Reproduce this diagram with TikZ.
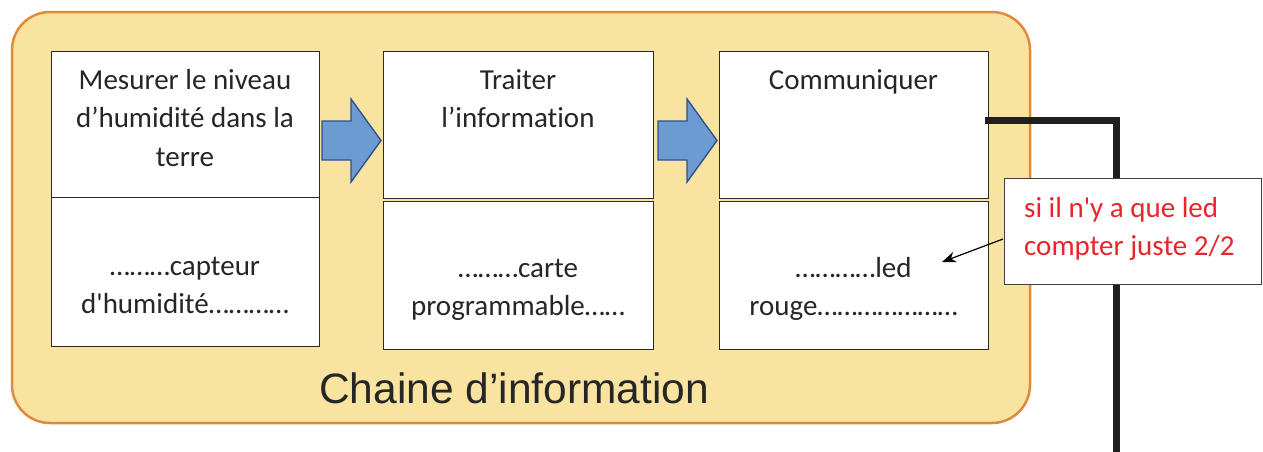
\documentclass[tikz,border=0pt]{standalone}
\usepackage{fontspec}
\usetikzlibrary{arrows.meta}
\setmainfont{Carlito}[Ligatures={NoCommon,TeXOff}]
\newfontfamily\arialf{Liberation Sans}
\newcommand\fh{\rule{0pt}{20pt}}
\definecolor{chainfill}{HTML}{F8E4A0}
\definecolor{chainedge}{HTML}{E08A3C}
\definecolor{arrfill}{HTML}{6C9BD2}
\definecolor{arredge}{HTML}{2F528F}
\definecolor{boxedge}{HTML}{2B2B2B}
\definecolor{redtxt}{HTML}{E8262A}
\tikzset{
  cell/.style={draw=boxedge, line width=1.2pt, fill=white, inner sep=0pt, anchor=north west},
  txt/.style={inner sep=0pt, anchor=north, align=center, text=black!85,
              font=\fontsize{29}{38.5}\selectfont},
  blockarrow/.style={fill=arrfill, draw=arredge, line width=1.4pt, line join=miter},
}
\begin{document}
\begin{tikzpicture}[x=1pt,y=-1pt]
\useasboundingbox (0,0) rectangle (1263,451);
% outer chain
\draw[fill=chainfill, draw=chainedge, line width=2.5pt, rounded corners=38pt]
  (12,12) rectangle (1030,423);
\node[inner sep=0pt, anchor=base, font=\arialf\fontsize{42.5}{42}\selectfont, text=black!85]
  (title) at (514,403) {Chaine d’information};
% boxes
\node[cell, minimum width=268pt, minimum height=146pt] (b1t) at (51,51) {};
\node[cell, minimum width=268pt, minimum height=149pt] (b1b) at (51,197) {};
\node[cell, minimum width=270pt, minimum height=147pt] (b2t) at (383,51) {};
\node[cell, minimum width=270pt, minimum height=148pt] (b2b) at (383,201) {};
\node[cell, minimum width=269pt, minimum height=147pt] (b3t) at (719,51) {};
\node[cell, minimum width=269pt, minimum height=148pt] (b3b) at (719,201) {};
% texts
\node[txt] (t1) at (185,69) {\fh Mesurer le niveau\\d’humidité dans la\\terre};
\node[txt] (u1) at (185,255) {\fh ………capteur\\d'humidité…………};
\node[txt] (t2) at (518,69) {\fh Traiter\\l’information};
\node[txt] (u2) at (518,257) {\fh ………carte\\programmable……};
\node[txt] (t3) at (853.5,69) {\fh Communiquer};
\node[txt] (u3) at (853.5,257) {\fh …………led\\rouge…………………};
% block arrows
\draw[blockarrow] (322,121) -- (351,121) -- (351,99) -- (381,140.5) -- (351,182) -- (351,160) -- (322,160) -- cycle;
\draw[blockarrow] (658,121) -- (687,121) -- (687,99) -- (717,140.5) -- (687,182) -- (687,160) -- (658,160) -- cycle;
% thick line
\coordinate (ls) at (985,120.5);
\coordinate (lc) at (1116.5,120.5);
\coordinate (le) at (1116.5,460);
\draw[line width=7pt, black!88] (ls) -- (lc) -- (le);
% note
\node[draw=black!75, line width=1.2pt, fill=white, inner sep=0pt, anchor=north west,
      minimum width=257pt, minimum height=106pt] (note) at (1004,178) {};
\node[inner sep=0pt, anchor=north west, align=left, text=redtxt,
      font=\fontsize{29}{38.5}\selectfont] (notetxt) at (1024,197) {\fh si il n'y a que led\\compter juste 2/2};
\coordinate (na) at (1003,239);
\coordinate (nb) at (942,262);
\draw[-{Stealth[length=14pt,width=11pt]}, line width=1.2pt] (na) -- (nb);
\end{tikzpicture}
\end{document}
